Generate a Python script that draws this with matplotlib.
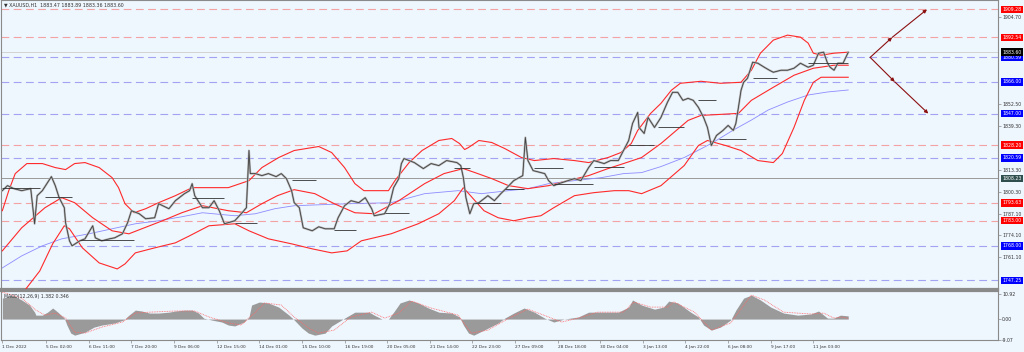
import numpy as np
import matplotlib.pyplot as plt

# ---- data (bar index = H1 bars from 1 Dec 2022) ----
price_bar = [0, 4, 9, 15, 22, 25, 27, 31, 35, 38, 41, 44, 48, 49, 52, 54, 60, 64, 70, 72,
             77, 83, 87, 93, 97, 100, 106, 111, 118, 121, 129, 134, 141, 145, 147, 149, 155, 160, 164, 168,
             172, 180, 185, 189, 191, 192, 196, 201, 206, 212, 216, 220, 224, 226, 230, 233, 240, 245, 250, 257,
             260, 265, 270, 276, 281, 286, 288, 296, 300, 303, 307, 309, 311, 319, 326, 332, 338, 344, 352, 355,
             357, 359, 362, 365, 369, 376, 381, 386, 390, 396, 403, 405, 407, 411, 420, 423, 427, 431, 438, 443,
             448, 454, 458, 466, 471, 477, 481, 485, 488, 492, 493, 497, 500, 505, 510, 515, 519, 523, 527, 531,
             535, 539, 543, 546, 549, 553, 558, 562, 566, 568, 570, 572, 574, 577, 581, 585, 590, 594, 597, 603,
             608, 613, 618, 624, 628, 632, 636, 639, 641, 644, 647, 651, 655]
price_close = [1800.9, 1803.9, 1802.1, 1800.9, 1802.1, 1781.1, 1797.9, 1800.9, 1805.7, 1809.3,
               1803.9, 1796.7, 1790.7, 1781.7, 1770.9, 1767.9, 1770.9, 1772.1, 1779.9, 1772.7,
               1770.9, 1772.1, 1772.7, 1775.1, 1781.7, 1788.9, 1787.1, 1784.1, 1784.7, 1793.1,
               1790.1, 1794.9, 1799.1, 1800.9, 1805.1, 1797.9, 1790.7, 1790.7, 1794.9, 1788.9,
               1781.1, 1782.9, 1787.1, 1790.7, 1824.9, 1811.1, 1811.1, 1809.9, 1811.1, 1809.3,
               1811.1, 1808.1, 1800.9, 1793.7, 1790.7, 1778.7, 1776.9, 1779.3, 1778.1, 1778.1,
               1784.7, 1791.9, 1794.9, 1793.7, 1796.7, 1790.1, 1785.9, 1787.1, 1793.1, 1802.7,
               1808.1, 1817.1, 1820.1, 1817.7, 1814.1, 1817.1, 1815.9, 1818.9, 1817.7, 1815.9,
               1808.7, 1796.7, 1787.1, 1793.1, 1793.7, 1797.9, 1794.9, 1799.1, 1802.1, 1806.9,
               1809.9, 1832.7, 1818.9, 1812.9, 1811.1, 1806.9, 1803.9, 1805.1, 1806.9, 1808.1,
               1806.9, 1814.7, 1818.9, 1817.1, 1818.9, 1818.9, 1824.9, 1830.9, 1841.1, 1847.7,
               1838.7, 1835.1, 1844.7, 1838.7, 1844.7, 1853.7, 1859.7, 1859.7, 1854.9, 1856.1,
               1854.9, 1850.7, 1844.7, 1838.7, 1827.9, 1833.9, 1836.9, 1839.9, 1836.9, 1841.1,
               1850.7, 1860.9, 1865.7, 1868.1, 1877.7, 1877.1, 1874.7, 1872.9, 1871.7, 1872.9,
               1872.9, 1874.1, 1877.1, 1874.7, 1875.9, 1883.1, 1883.7, 1877.1, 1874.7, 1872.9,
               1877.1, 1877.1, 1883.6]

upper_bar = [0, 5, 10, 19, 31, 41, 49, 56, 64, 75, 85, 90, 95, 102, 111, 121, 134, 147, 175, 191,
             201, 214, 226, 245, 255, 265, 273, 280, 299, 304, 315, 325, 338, 348, 354, 358, 361, 369, 379, 389,
             402, 412, 427, 443, 454, 469, 479, 487, 492, 502, 510, 518, 525, 541, 556, 572, 580, 587, 597, 608,
             618, 624, 628, 634, 644, 655]
upper_val = [1788.9, 1800.9, 1811.1, 1817.1, 1817.1, 1814.7, 1813.5, 1817.1, 1817.7, 1814.7,
             1808.7, 1802.7, 1793.1, 1787.7, 1790.1, 1793.7, 1797.9, 1802.7, 1802.7, 1806.9,
             1814.7, 1820.7, 1824.9, 1827.3, 1823.7, 1814.7, 1805.1, 1800.9, 1800.9, 1806.9,
             1817.7, 1824.9, 1830.9, 1832.1, 1829.1, 1825.5, 1826.7, 1830.9, 1829.7, 1826.1,
             1820.7, 1818.9, 1820.1, 1818.9, 1817.7, 1820.7, 1823.7, 1829.1, 1836.9, 1847.1,
             1853.1, 1860.9, 1865.1, 1866.3, 1865.1, 1865.7, 1872.9, 1883.1, 1890.9, 1893.9,
             1892.7, 1889.1, 1883.1, 1881.9, 1883.1, 1883.7]

middle_bar = [0, 15, 33, 46, 56, 70, 85, 98, 108, 124, 139, 155, 175, 189, 201, 213, 226, 242, 257, 273,
              288, 307, 327, 342, 357, 366, 379, 392, 407, 423, 438, 454, 469, 481, 495, 510, 531, 541, 556, 570,
              580, 597, 613, 628, 644, 655]
middle_val = [1764.9, 1778.7, 1790.7, 1796.7, 1793.7, 1784.7, 1776.9, 1775.1, 1778.1, 1782.9,
              1787.7, 1791.9, 1788.9, 1787.7, 1793.1, 1797.9, 1801.5, 1799.1, 1793.1, 1787.7,
              1787.1, 1794.9, 1805.1, 1811.1, 1814.1, 1811.7, 1808.1, 1803.9, 1802.1, 1803.9,
              1806.9, 1809.9, 1814.1, 1817.1, 1820.7, 1829.1, 1842.9, 1845.9, 1846.5, 1847.1,
              1854.9, 1862.7, 1869.9, 1874.1, 1875.9, 1875.9]

lower_bar = [17, 29, 39, 48, 52, 62, 75, 89, 95, 103, 118, 134, 145, 160, 180, 191, 206, 224, 240, 255,
             267, 278, 301, 322, 338, 350, 357, 366, 373, 384, 396, 407, 417, 427, 443, 458, 474, 485, 495, 510,
             528, 539, 546, 560, 572, 585, 597, 604, 613, 621, 628, 634, 644, 655]
lower_val = [1740.9, 1752.9, 1769.1, 1779.9, 1778.1, 1766.7, 1757.7, 1754.1, 1757.1, 1763.7,
             1766.7, 1769.7, 1773.9, 1779.9, 1781.1, 1776.9, 1772.1, 1769.1, 1766.1, 1763.7,
             1764.9, 1770.9, 1775.1, 1781.1, 1787.1, 1794.9, 1802.7, 1794.9, 1788.9, 1784.7,
             1782.9, 1784.7, 1785.9, 1790.7, 1797.9, 1799.7, 1800.9, 1800.9, 1799.1, 1803.9,
             1815.9, 1827.9, 1830.9, 1827.9, 1824.9, 1818.9, 1817.7, 1823.1, 1838.7, 1854.9,
             1865.7, 1868.7, 1868.7, 1868.7]

ma_bar = [0, 15, 31, 46, 67, 85, 103, 121, 139, 155, 180, 196, 211, 226, 247, 268, 301, 327, 353, 371,
          392, 407, 423, 443, 464, 481, 495, 510, 528, 549, 566, 580, 593, 608, 624, 639, 655]
ma_val = [1754.7, 1761.9, 1767.9, 1772.1, 1775.1, 1778.1, 1781.1, 1782.9, 1785.3, 1787.7,
          1785.9, 1787.1, 1790.1, 1791.9, 1792.5, 1793.1, 1793.7, 1799.1, 1800.9, 1799.1,
          1800.9, 1802.1, 1805.1, 1806.9, 1808.7, 1811.1, 1811.7, 1815.3, 1820.7, 1829.1,
          1837.1, 1843.1, 1849.1, 1853.9, 1858.1, 1859.9, 1861.1]

# short black break segments: start bar, end bar, price
seg_start = [0, 33, 60, 147, 180, 224, 257, 296, 350, 366, 389, 412, 427, 458, 485, 508, 539, 555, 581, 624]
seg_end = [29, 54, 102, 172, 197, 243, 274, 315, 362, 386, 404, 434, 457, 481, 505, 528, 553, 576, 600, 655]
seg_price = [1802.7, 1797.3, 1771.5, 1796.7, 1781.7, 1807.5, 1777.5, 1787.7, 1814.7, 1793.7,
             1802.1, 1814.7, 1805.1, 1815.3, 1828.5, 1838.7, 1854.9, 1831.5, 1868.1, 1877.1]

red_levels = [1909.28, 1892.54, 1828.20, 1793.63, 1783.00]
blue_levels = [1880.59, 1866.00, 1847.00, 1820.59, 1768.00, 1747.25]
last_price = 1883.60
grey_level = 1808.23
price_ticks = [1904.70, 1852.50, 1839.30, 1813.30, 1800.30, 1787.10, 1774.10, 1761.10]

# projection arrows
proj_bar_up = [672, 689, 716]
proj_up = [1880.59, 1892.54, 1909.28]
proj_bar_dn = [672, 691, 717]
proj_dn = [1880.59, 1866.00, 1847.00]

macd_bar = [0, 8, 15, 21, 25, 26, 31, 35, 39, 43, 48, 50, 53, 56, 64, 71, 77, 87, 94, 98,
            103, 108, 114, 121, 129, 134, 141, 147, 152, 156, 162, 170, 175, 180, 187, 191, 193, 199, 206, 214,
            222, 226, 232, 237, 242, 250, 255, 265, 273, 284, 288, 294, 299, 303, 308, 315, 322, 330, 338, 348,
            354, 357, 361, 365, 373, 384, 389, 396, 404, 412, 420, 427, 435, 446, 454, 464, 477, 485, 488, 495,
            505, 512, 516, 523, 533, 539, 543, 549, 556, 564, 568, 574, 580, 587, 595, 605, 616, 626, 632, 639,
            644, 649, 655]
macd_val = [9.1, 10.4, 8.3, 6.1, 3.0, 1.7, 1.7, 3.0, 4.8, 3.0, 0.4, -2.6, -6.1, -7.0, -5.7, -3.5, -2.6, -1.7, -0.4, 1.7,
            3.9, 3.5, 2.6, 2.6, 3.0, 3.5, 3.9, 3.9, 2.6, 0.4, -0.4, -1.3, -2.6, -3.0, -1.3, 0.9, 6.1, 7.4, 7.0, 5.2,
            1.7, -0.4, -3.9, -6.1, -7.0, -6.1, -3.0, 0.4, 3.0, 3.0, 1.7, 0.0, 0.0, 3.0, 7.0, 8.3, 7.0, 4.8, 3.0, 2.6,
            0.9, -2.6, -6.1, -7.0, -4.8, -1.7, 0.4, 2.6, 4.8, 3.0, 0.4, -1.3, 0.0, 0.9, 3.0, 3.0, 3.0, 5.2, 8.3, 6.1,
            4.3, 5.2, 7.8, 7.0, 3.0, 0.9, -2.6, -4.8, -3.5, -0.4, 3.9, 9.1, 10.4, 8.3, 5.2, 2.6, 1.7, 2.2, 3.5, 0.4,
            0.4, 1.7, 1.382]
signal_bar = [0, 15, 26, 33, 41, 49, 56, 64, 77, 93, 103, 114, 134, 149, 160, 175, 185, 196, 203, 216,
              226, 237, 245, 257, 270, 286, 296, 307, 317, 332, 353, 363, 376, 394, 407, 423, 433, 446, 461, 481,
              489, 502, 515, 520, 536, 549, 564, 580, 590, 605, 626, 636, 644, 649, 655]
signal_val = [11.7, 9.1, 3.9, 1.7, 2.6, 0.4, -5.7, -6.1, -3.5, -1.3, 2.6, 3.0, 3.5, 3.5, 0.9, -1.7, -2.6, 3.0, 7.0, 6.1,
              0.9, -3.9, -6.1, -4.8, 0.9, 3.0, 0.4, 2.6, 7.8, 4.8, 1.7, -6.1, -4.8, 0.9, 4.3, 0.9, -1.3, 0.4, 3.0, 3.0,
              7.4, 5.2, 5.2, 7.4, 3.0, -4.8, -1.7, 10.4, 8.3, 3.0, 2.2, 2.6, 0.4, 0.9, 0.346]

date_ticks = [0, 34, 67, 100, 133, 166, 199, 232, 265, 298, 331, 364, 397, 430, 463, 496, 529, 562, 595, 628]
date_labels = ['1 Dec 2022', '5 Dec 02:00', '6 Dec 11:00', '7 Dec 20:00', '9 Dec 06:00', '12 Dec 15:00',
               '14 Dec 01:00', '15 Dec 10:00', '16 Dec 19:00', '20 Dec 05:00', '21 Dec 14:00', '22 Dec 23:00',
               '27 Dec 09:00', '28 Dec 18:00', '30 Dec 04:00', '3 Jan 13:00', '4 Jan 22:00', '6 Jan 08:00',
               '9 Jan 17:00', '11 Jan 03:00']

# ---- figure ----
bg = '#eef6fe'
W, H = 1024, 352
fig = plt.figure(figsize=(W / 100, H / 100), dpi=100, facecolor=bg)
ax = fig.add_axes([0.001, 1 - 289 / H, 997 / W, 289 / H], facecolor=bg)
axm = fig.add_axes([0.001, 1 - 340 / H, 997 / W, 49 / H], facecolor=bg)

for a in (ax, axm):
    a.set_xlim(-1, 771)
    for s in a.spines.values():
        s.set_color('#8a8a8a')
        s.set_linewidth(0.8)
ax.spines['bottom'].set_linewidth(1.6)
axm.spines['top'].set_linewidth(1.6)
ax.set_ylim(1742.1, 1914.9)
axm.set_ylim(-9.1, 12.2)

# level lines
for lv in red_levels:
    ax.axhline(lv, color='#f4a3a3', lw=0.8, ls=(0, (7, 4)), zorder=1)
for lv in blue_levels:
    ax.axhline(lv, color='#a3a3f4', lw=0.8, ls=(0, (7, 4)), zorder=1)
ax.axhline(last_price, color='#d2d2d2', lw=0.7, zorder=1)
ax.axhline(grey_level, color='#9a9a9a', lw=0.7, zorder=1)

# bands and MA
ax.plot(ma_bar, ma_val, color='#8c8cff', lw=0.6, zorder=2)
ax.plot(upper_bar, upper_val, color='#ff2a2a', lw=0.8, zorder=3)
ax.plot(middle_bar, middle_val, color='#ff2a2a', lw=0.8, zorder=3)
ax.plot(lower_bar, lower_val, color='#ff2a2a', lw=0.8, zorder=3)

# price (candles rendered as dense line with grey wicks)
ax.plot(price_bar, price_close, color='#b4b4b4', lw=1.5, zorder=4)
ax.plot(price_bar, price_close, color='#404040', lw=0.6, zorder=5)
ax.hlines(seg_price, seg_start, seg_end, color='#303030', lw=0.6, zorder=5)

# projection arrows
for bx, py in ((proj_bar_up, proj_up), (proj_bar_dn, proj_dn)):
    for i in range(2):
        ax.annotate('', xy=(bx[i + 1], py[i + 1]), xytext=(bx[i], py[i]),
                    arrowprops=dict(arrowstyle='-|>', color='#8b1010', lw=0.8,
                                    mutation_scale=5, shrinkA=0, shrinkB=0), zorder=6)

# right price scale
ax.yaxis.tick_right()
ax.set_yticks(price_ticks)
ax.set_yticklabels(['%.2f' % t for t in price_ticks])
ax.tick_params(axis='y', labelsize=3.3, length=2, width=0.5, color='#8a8a8a', pad=1, labelcolor='#333333')
ax.set_xticks([])

ytr = ax.get_yaxis_transform()
boxes = [(v, '#ff0000') for v in red_levels] + [(v, '#0000ff') for v in blue_levels]
boxes += [(last_price, '#000000'), (grey_level, '#2f4f4f')]
for v, c in boxes:
    ax.text(1.004, v, '%.2f' % v, transform=ytr, ha='left', va='center', fontsize=3.3, color='white',
            bbox=dict(boxstyle='square,pad=0.3', fc=c, ec='none'), clip_on=False, zorder=10)

ax.text(0.003, 1 - 5 / 289, '\u25bc XAUUSD,H1  1883.47 1883.89 1883.36 1883.60', transform=ax.transAxes,
        ha='left', va='center', fontsize=3.4, color='#333333')

# MACD panel
axm.fill_between(macd_bar, macd_val, 0, color='#9a9a9a', lw=0, zorder=2)
axm.plot(signal_bar, signal_val, color='#ff6a6a', lw=0.6, ls=(0, (1, 1)), zorder=3)
axm.yaxis.tick_right()
axm.set_yticks([10.92, 0.0, -9.07])
axm.set_yticklabels(['10.92', '0.00', '-9.07'])
axm.tick_params(axis='y', labelsize=3.3, length=2, width=0.5, color='#8a8a8a', pad=1, labelcolor='#333333')
axm.text(0.003, 0.93, 'MACD(12,26,9) 1.382 0.346', transform=axm.transAxes, ha='left', va='top',
         fontsize=3.3, color='#333333')

axm.set_xticks(date_ticks)
axm.set_xticklabels(date_labels, ha='left')
axm.tick_params(axis='x', labelsize=3.1, length=2, width=0.5, color='#8a8a8a', pad=1.5, labelcolor='#333333')

fig.savefig('out.png', dpi=100, facecolor=bg)
